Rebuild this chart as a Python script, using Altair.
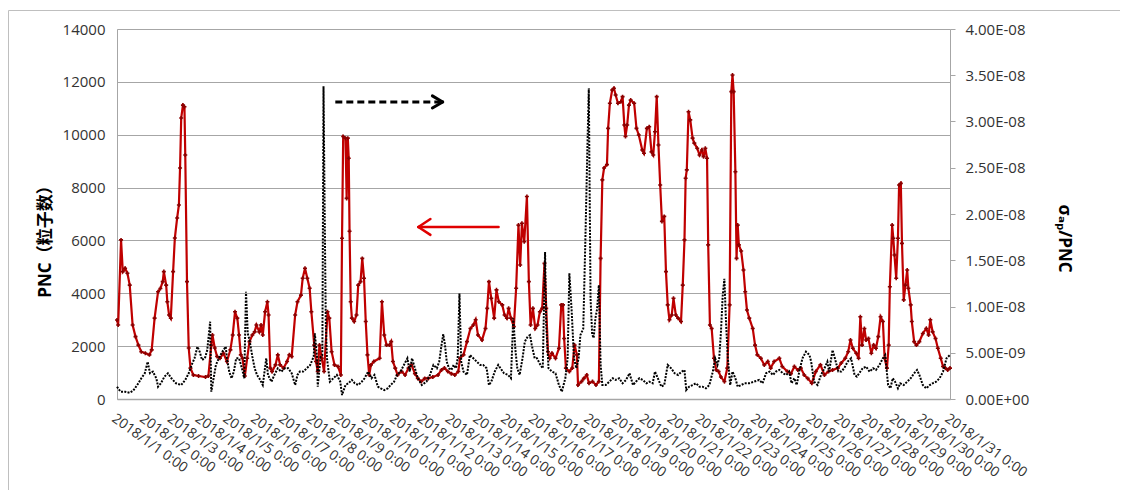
import altair as alt
import pandas as pd

# ---------------- data (hours from 2018/1/1 0:00) ----------------
red_hours = [0, 1, 3.5, 5, 7, 9, 11, 13.5, 16, 18.5, 21, 24.5, 28, 30, 32.5, 35.5, 37.5, 39.5, 40.5, 42.5,
             43.5, 45, 46.5, 48.5, 50, 52, 53.5, 54.5, 55.5, 57, 58.3, 59, 60.5, 62, 63.5, 66, 70.5, 76.5, 79, 81.5,
             82.5, 84.5, 86.5, 89, 92, 95, 98, 100, 102, 104, 105.5, 107, 108.5, 110.5, 112.5, 114.5, 117, 119, 120.5, 123,
             124.5, 126, 128, 130, 131, 132.5, 134, 137, 139, 141, 144, 147, 149, 151, 154, 156, 159, 160.5, 162.5, 164.5,
             166.5, 168, 170.5, 172, 173.5, 175, 177, 179, 182, 183.5, 185.5, 188, 191, 193.5, 194.5, 195.5, 197.5, 198.5, 199.5, 200.3,
             201, 202, 203, 205, 207, 208.5, 210.5, 212, 213.5, 215, 216.5, 218, 219.5, 222, 227, 229, 231, 233, 235.5, 237,
             238.5, 240.5, 242.5, 246, 249, 252, 254.5, 257.5, 260, 263, 266, 269, 273, 277.5, 280.5, 283, 286, 289, 292, 295,
             296.5, 299.5, 302.5, 305.5, 308, 310, 312, 315.5, 318.5, 320, 321.5, 323.5, 326, 328, 330, 333, 335, 337, 338.5, 340.5,
             343, 345, 347, 348.5, 350, 352, 354.3, 356, 357.5, 359.5, 361.5, 363.5, 365.5, 367.5, 369.5, 371, 372.5, 374, 376, 379,
             382, 384, 385.5, 386.5, 388, 391, 393.5, 395.5, 397.5, 398.5, 401.5, 403.5, 406, 408, 411, 414, 416.5, 418, 419.5, 421,
             423.5, 424.5, 426, 428, 429.5, 431, 433, 435.5, 437, 438.5, 439.5, 441, 442.5, 444, 447, 449, 451, 454, 455.5, 458,
             460, 462, 463.5, 465, 466.5, 468, 469.5, 471, 473, 474.5, 476, 477.5, 479.5, 481, 483, 485, 487.5, 489, 490.5, 491.5,
             492.5, 494, 495.5, 497.5, 499, 501.5, 503.5, 505.5, 507, 508.5, 510, 511, 512.5, 514, 516, 518, 520, 522, 525, 527.5,
             529.5, 531, 532, 533, 534.5, 535.5, 536.5, 537.5, 539.5, 541.5, 543, 544.5, 546.5, 549.5, 551.5, 553.5, 556.5, 559.5, 562.5, 565,
             568, 572.5, 575, 579.5, 582.5, 585.5, 588.5, 591, 594, 597, 600.5, 604, 608, 611.5, 615, 618.5, 623, 626, 629.5, 632,
             634, 636, 639, 641, 642.5, 644, 646, 647.5, 649.5, 652, 654, 656, 658, 660, 662, 663.5, 665.5, 667, 668, 670,
             671, 672, 673.5, 675, 676, 677.5, 678.5, 680, 681.5, 683, 684, 686, 687, 689, 691, 693.5, 696.5, 699.5, 701.5, 703,
             705, 707.5, 709.5, 712, 714, 716, 718, 720]
red_pnc = [2990, 2800, 6020, 4820, 4950, 4760, 4310, 2800, 2360, 2040, 1790, 1730, 1670, 1860, 3060, 4060, 4180, 4440, 4820, 4310,
           3680, 3180, 3060, 4820, 6090, 6850, 7340, 8740, 10630, 11120, 11060, 9230, 4440, 1930, 1170, 910, 870, 830, 870, 2040,
           2420, 1930, 1610, 1540, 1730, 1420, 1860, 2420, 3300, 3060, 2420, 1670, 1540, 870, 1540, 2170, 2420, 2540, 2800, 2540,
           2800, 2420, 3300, 3680, 3180, 1170, 1040, 1290, 1670, 1290, 1170, 1420, 1670, 1610, 3180, 3680, 3930, 4570, 4950, 4570,
           4190, 3300, 2040, 1420, 1040, 2040, 1540, 1040, 3300, 3060, 1790, 1290, 1230, 910, 6080, 9930, 9870, 7590, 9870, 9110,
           6350, 3680, 3060, 2930, 3180, 4310, 4440, 5320, 4570, 2930, 1670, 910, 1290, 1420, 1540, 3680, 2420, 2040, 2040, 2170,
           1420, 1170, 910, 1040, 910, 1170, 1290, 960, 780, 660, 780, 780, 830, 910, 1100, 1170, 1040, 960, 910, 1040,
           1540, 1670, 2170, 2670, 2800, 3000, 2420, 2230, 2670, 3430, 4440, 3810, 3060, 4130, 3680, 3560, 3180, 3060, 3430, 3060,
           2740, 4190, 6580, 5070, 6650, 5950, 7660, 4440, 2800, 3430, 2670, 2800, 3300, 3430, 5130, 3430, 1790, 1540, 1730, 1540,
           1920, 3560, 3560, 2290, 1170, 1040, 1170, 2040, 1670, 530, 660, 780, 910, 600, 660, 530, 660, 5320, 8290, 8740,
           8870, 10240, 11190, 11690, 11760, 11500, 11190, 11250, 11440, 10370, 9930, 10370, 11120, 11310, 11190, 10240, 9990, 9420, 9300, 10240,
           10300, 9350, 9230, 10110, 11440, 9610, 8100, 6720, 6910, 4820, 3560, 3000, 3180, 3810, 3180, 3060, 2930, 4310, 6020, 8350,
           8670, 10870, 10560, 9870, 9680, 9490, 9230, 9420, 9170, 9490, 9110, 5830, 2800, 2670, 1540, 1100, 1040, 830, 660, 1170,
           3560, 11630, 12260, 11630, 8600, 5320, 6580, 5830, 5600, 4880, 4060, 3370, 3060, 2670, 2040, 1670, 1540, 1290, 1420, 1170,
           1420, 1540, 1230, 1040, 960, 1230, 1100, 1170, 910, 780, 600, 1040, 1290, 910, 1040, 1100, 1170, 1360, 1540, 1790,
           2230, 1920, 1730, 1540, 3110, 2040, 2670, 2230, 2290, 1730, 2040, 1920, 2360, 3110, 2930, 1540, 1170, 2040, 4250, 6580,
           6080, 5450, 4570, 6080, 8100, 8160, 5890, 3750, 4310, 4880, 4190, 3560, 2930, 2170, 2040, 2170, 2480, 2670, 2420, 3000,
           2540, 2290, 1920, 1540, 1230, 1170, 1100, 1170]

blk_hours = [0, 3, 7, 11, 14, 18.5, 21, 24, 26.5, 28.5, 31, 34, 35.5, 38, 41, 44, 47, 51, 55.5, 59,
             62, 64.5, 67, 69.5, 71.5, 73.5, 76, 78, 80.5, 81.5, 83.5, 85.5, 88, 91, 94, 95, 97, 99, 101, 103,
             105.5, 108, 110, 111.5, 113, 114.5, 117, 119, 121, 123, 126, 129, 130.5, 133.5, 136, 139, 142, 145, 148, 151,
             154, 156, 158, 161, 164, 167, 170, 171, 173, 173.5, 176, 177.5, 178.5, 179.5, 180.5, 181.5, 184, 187, 190, 193,
             194.5, 197.5, 200, 203, 205.5, 208.5, 211.5, 214, 217, 220, 222.5, 225.5, 228, 231, 234, 236.5, 239.5, 242, 245, 248,
             251, 253, 255, 257.5, 260, 263.5, 267.5, 270.5, 273.5, 276.5, 278.5, 280.5, 282, 283.5, 285, 287, 289, 291, 293, 294.5,
             296, 297.5, 299.5, 302.5, 305, 308, 311, 314, 316.5, 319.5, 321.5, 323.5, 326.5, 329.5, 331.5, 334.5, 338, 340.5, 342.5, 344.5,
             346, 348, 350.5, 352.5, 355, 357, 358.5, 361, 363, 366, 368, 370, 371, 373, 376, 379, 382, 384.5, 387.5, 389.5,
             391, 393, 395, 397, 399, 400.5, 403, 405, 406.5, 407.8, 409.3, 410.7, 412, 413.5, 415, 416.5, 418, 419.5, 422.5, 425.5,
             428.5, 431, 434, 437, 440, 443, 446, 448.5, 451.5, 454.5, 457.5, 460, 463, 465, 467.5, 470.5, 473, 476, 479, 482,
             485, 488, 490.5, 492, 494.5, 497.5, 500.5, 503.5, 506, 509, 512, 515, 517, 519, 520.5, 522, 523.5, 525, 526.5, 528,
             530, 532, 534.5, 536.5, 539.5, 542.5, 546.5, 550.5, 555, 558, 561, 564, 567, 569.5, 572.5, 575.5, 578.5, 581, 583, 585.5,
             587.5, 590, 592.5, 595.5, 598.5, 600, 602.5, 605.5, 608.5, 611.5, 614, 615.5, 618.5, 620.5, 623.5, 626, 628.5, 631.5, 634.5, 637.5,
             639.5, 641.5, 644.5, 647.5, 650.5, 653.5, 656, 659, 662, 664, 666.5, 668.5, 670.5, 672.5, 675, 677, 680, 683, 686, 689,
             691.5, 693.5, 696.5, 699.5, 702.5, 705, 708, 711, 714, 717, 720]
blk_ratio_e9 = [1.33, 0.79, 0.79, 0.68, 0.90, 1.70, 2.24, 2.78, 4.03, 2.78, 2.96, 2.24, 1.33, 1.70, 2.42, 2.78, 2.24, 1.70, 1.51, 2.06,
                2.78, 3.68, 4.40, 5.65, 5.11, 4.22, 4.40, 5.29, 8.36, 0.79, 2.24, 3.68, 4.40, 5.11, 5.65, 4.40, 2.96, 2.24, 2.96, 4.40,
                4.40, 3.32, 2.24, 11.6, 7.1, 6.4, 4.58, 3.32, 2.60, 2.24, 1.51, 4.40, 2.60, 1.87, 2.60, 3.32, 2.96, 3.32, 3.32, 2.78,
                1.51, 2.60, 2.96, 2.96, 3.32, 3.68, 4.58, 7.1, 4.4, 1.33, 4.58, 4.76, 33.8, 20.0, 8.0, 4.40, 1.87, 2.24, 2.60, 1.87,
                0.43, 1.51, 1.70, 2.06, 1.70, 1.51, 1.87, 2.24, 2.96, 2.24, 2.60, 1.33, 1.15, 0.97, 1.15, 1.51, 1.87, 2.60, 2.96, 3.68,
                4.40, 2.96, 4.40, 3.32, 2.24, 1.51, 1.87, 2.60, 3.68, 3.32, 4.03, 5.84, 7.0, 5.84, 4.03, 3.32, 3.14, 3.68, 3.32, 4.40,
                11.4, 4.03, 2.96, 2.60, 4.76, 4.40, 4.03, 3.68, 3.68, 3.32, 1.51, 1.87, 2.96, 3.68, 3.32, 2.78, 2.60, 2.24, 8.72, 5.11,
                3.32, 2.60, 4.40, 6.2, 6.76, 6.9, 5.84, 4.40, 4.40, 3.68, 3.32, 15.9, 8.0, 3.32, 2.96, 2.78, 1.51, 0.79, 2.24, 4.40,
                13.6, 9.5, 4.40, 3.32, 4.40, 6.9, 7.6, 18.1, 26.7, 33.6, 10.9, 7.0, 6.6, 8.7, 9.75, 12.3, 3.68, 1.51, 1.51, 1.87,
                2.24, 2.06, 2.24, 1.70, 2.06, 2.78, 1.51, 1.87, 2.24, 2.06, 1.70, 1.87, 1.70, 2.96, 2.24, 1.33, 1.51, 3.68, 3.32, 2.78,
                2.60, 2.96, 3.14, 0.97, 1.33, 1.51, 1.70, 1.33, 1.33, 1.15, 1.51, 2.96, 4.40, 3.68, 4.40, 7.2, 11.1, 13.0, 8.0, 4.4,
                1.51, 2.96, 2.24, 1.33, 1.51, 1.70, 1.70, 1.87, 2.06, 1.70, 2.78, 2.96, 2.60, 2.96, 3.14, 2.78, 2.60, 2.96, 1.70, 2.24,
                1.51, 3.14, 4.40, 5.11, 4.76, 4.03, 1.87, 1.51, 2.60, 3.32, 4.03, 2.96, 5.29, 4.40, 2.96, 2.96, 3.32, 4.03, 4.40, 2.60,
                2.42, 2.78, 3.32, 3.50, 2.96, 3.32, 3.14, 3.68, 4.40, 4.76, 1.51, 1.15, 2.24, 1.87, 1.15, 1.70, 1.51, 1.87, 2.24, 2.78,
                3.14, 2.60, 1.51, 1.15, 1.51, 1.70, 1.87, 2.24, 2.96, 4.40, 4.76]

day_ticks = list(range(0, 721, 24))
left_ticks = list(range(0, 14001, 2000))
right_ticks = [i * 5e-9 for i in range(9)]

# annotation arrows (data coordinates on the left axis)
arrow_x = [188.7, 272.6, 272.6, 329.8, 270.9, 270.9]
arrow_x2 = [281.5, 281.5, 281.5, 260.5, 260.5, 260.5]
arrow_y = [11240, 11470, 11010, 6510, 6810, 6210]
arrow_y2 = [11240, 11240, 11240, 6510, 6510, 6510]
arrow_kind = ["black_dash", "black", "black", "red", "red", "red"]

red_df = pd.DataFrame({"h": red_hours, "pnc": red_pnc})
blk_df = pd.DataFrame({"h": blk_hours, "ratio": [v * 1e-9 for v in blk_ratio_e9]})
arr_df = pd.DataFrame({"h": arrow_x, "h2": arrow_x2, "pnc": arrow_y, "pnc2": arrow_y2, "k": arrow_kind})

FONT = "Open Sans, Noto Sans CJK SC, DejaVu Sans"
GRID = "#A6A6A6"
RED = "#C00000"

xscale = alt.Scale(domain=[0, 720], nice=False, zero=False)
yleft = alt.Scale(domain=[0, 14000], nice=False)
yright = alt.Scale(domain=[0, 4e-8], nice=False)

x_axis = alt.Axis(values=day_ticks,
                  labelExpr="'2018/1/' + (round(datum.value/24)+1) + ' 0:00'",
                  labelAngle=36, labelAlign="left", labelBaseline="top", labelPadding=12,
                  labelOverlap=False, labelBound=False, labelFlush=False,
                  ticks=False, grid=False, domainColor=GRID, domainWidth=1.5, title=None,
                  labelFont=FONT, labelFontSize=14, labelColor="#333333")

y_left_axis = alt.Axis(values=left_ticks, grid=True, gridColor=GRID, gridWidth=1, format="d",
                       ticks=False, domainColor=GRID, labelPadding=12,
                       labelFont=FONT, labelFontSize=15, labelColor="#333333",
                       title="PNC（粒子数）", titleFont=FONT, titleFontSize=17,
                       titleFontWeight="bold", titleColor="#000000",
                       titleX=-72, titleY=208, titleAngle=-90, titleBaseline="middle",
                       titleAlign="center")

y_right_axis = alt.Axis(values=right_ticks, orient="right", grid=False,
                        ticks=True, tickSize=5, tickColor=GRID, domainColor=GRID,
                        labelPadding=10, labelFont=FONT, labelFontSize=15, labelColor="#333333",
                        labelExpr="datum.value < 1e-12 ? '0.00E+00' : (datum.value < 9.9e-9 ? format(datum.value*1e9, '.2f') + 'E-09' : format(datum.value*1e8, '.2f') + 'E-08')",
                        title="σₐₚ/PNC", titleFont=FONT, titleFontSize=17,
                        titleFontWeight="bold", titleColor="#000000",
                        titleX=113, titleY=209, titleAngle=90, titleBaseline="middle",
                        titleAlign="center")

X = alt.X("h:Q", scale=xscale, axis=x_axis, title=None)
YL = alt.Y("pnc:Q", scale=yleft, axis=y_left_axis, title="PNC（粒子数）")

border = alt.Chart(pd.DataFrame({"a": [0]})).mark_rect(
    filled=False, stroke="#BFBFBF", strokeWidth=1
).encode(x=alt.value(-108.5), x2=alt.value(1030), y=alt.value(-18.5), y2=alt.value(475))

red_line = alt.Chart(red_df).mark_line(color=RED, strokeWidth=2.2).encode(x=X, y=YL)
red_pts = alt.Chart(red_df).mark_point(shape="cross", filled=True, size=16, color="#8B0000", opacity=1).encode(x=X, y=YL)

arr_black_dash = alt.Chart(arr_df).transform_filter("datum.k == 'black_dash'").mark_rule(
    color="#000000", strokeWidth=3, strokeDash=[7, 4]
).encode(x=X, x2="h2:Q", y=YL, y2="pnc2:Q")
arr_black = alt.Chart(arr_df).transform_filter("datum.k == 'black'").mark_rule(
    color="#000000", strokeWidth=3, strokeCap="round"
).encode(x=X, x2="h2:Q", y=YL, y2="pnc2:Q")
arr_red = alt.Chart(arr_df).transform_filter("datum.k == 'red'").mark_rule(
    color="#E00000", strokeWidth=2.5, strokeCap="round"
).encode(x=X, x2="h2:Q", y=YL, y2="pnc2:Q")

left_layer = alt.layer(border, red_line, red_pts, arr_black_dash, arr_black, arr_red)

blk_line = alt.Chart(blk_df).mark_line(color="#000000", strokeWidth=2, strokeDash=[2, 1.3]).encode(
    x=X,
    y=alt.Y("ratio:Q", scale=yright, axis=y_right_axis, title="σₐₚ/PNC"),
)

chart = alt.layer(left_layer, blk_line).resolve_scale(y="independent").properties(
    width=833, height=370,
    padding={"left": 109, "top": 21, "right": 170, "bottom": 91},
    autosize=alt.AutoSizeParams(type="none"),
).configure_view(stroke=None).configure(background="white")

chart.save("out.html", embed_options={"renderer": "svg", "actions": False})
